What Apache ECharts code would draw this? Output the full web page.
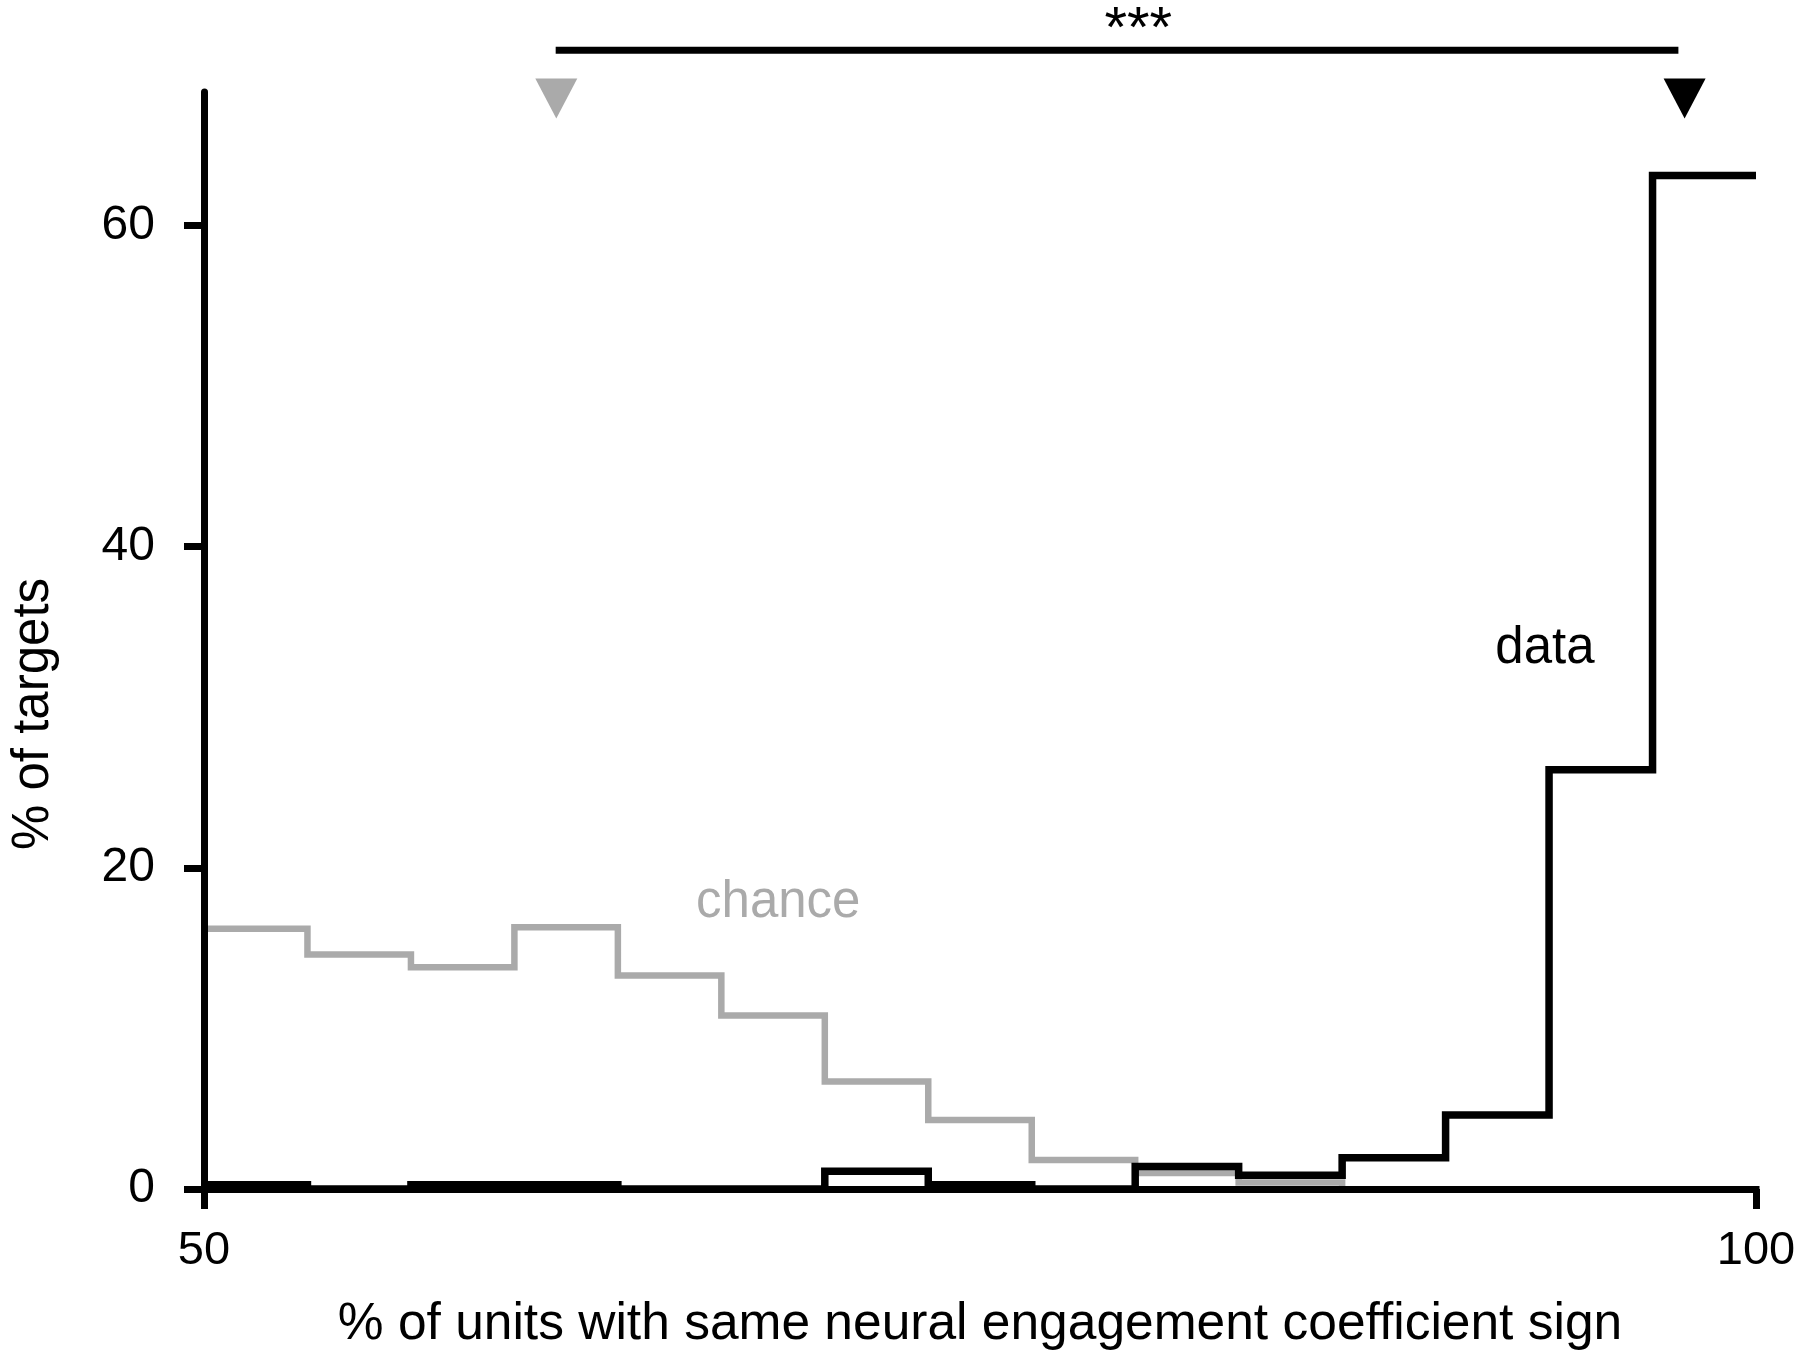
<!DOCTYPE html>
<html>
<head>
<meta charset="utf-8">
<script src="https://cdn.jsdelivr.net/npm/echarts@6/dist/echarts.min.js"></script>
<style>
html,body{margin:0;padding:0;background:#fff;}
#chart{width:1800px;height:1360px;}
</style>
</head>
<body>
<div id="chart"></div>
<script>
// Bin edges (% of units with same sign), 15 bins from 50 to 100
const binEdges = [50, 53.333, 56.667, 60, 63.333, 66.667, 70, 73.333, 76.667, 80, 83.333, 86.667, 90, 93.333, 96.667, 100];
// % of targets per bin
const chanceValues = [16.2, 14.6, 13.8, 16.3, 13.3, 10.8, 6.7, 4.3, 1.8, 1.0, 0.4, 0, 0, 0, 0];
const dataValues   = [0.27, 0, 0.27, 0.27, 0, 0, 1.1, 0.27, 0, 1.4, 0.85, 1.95, 4.6, 26.1, 63.1];
const xTicks = [50, 100];
const yTicks = [0, 20, 40, 60];
const yMax = 68.3;
// medians and significance
const chanceMedian = 61.35;
const dataMedian = 97.7;
const medianMarkerY = 67.9;
const sigBar = [61.33, 97.5];
const sigBarY = 70.9;
const sigLabel = '***';
const sigLabelPos = [80.1, 72.1];
const chanceLabel = {text: 'chance', x: 68.5, y: 17.8};
const dataLabel = {text: 'data', x: 93.2, y: 33.6};

function stepPoints(vals) {
  const pts = vals.map((v, i) => [binEdges[i], v]);
  pts.push([binEdges[binEdges.length - 1], vals[vals.length - 1]]);
  return pts;
}
// chance curve stops where it reaches zero
function chancePoints(vals) {
  let last = vals.length - 1;
  while (last > 0 && vals[last] === 0) last--;
  const pts = [];
  for (let i = 0; i <= last; i++) pts.push([binEdges[i], vals[i]]);
  pts.push([binEdges[last + 1], 0]);
  return pts;
}

const FONT = '"Liberation Sans", Arial, Helvetica, sans-serif';
const GRAY = '#aaaaaa';

const chart = echarts.init(document.getElementById('chart'), null, {renderer: 'canvas'});
chart.setOption({
  animation: false,
  backgroundColor: '#ffffff',
  grid: {left: 204, right: 44, top: 92, bottom: 171, containLabel: false},
  xAxis: {
    type: 'value', min: 50, max: 100, interval: 50, z: 10,
    name: '% of units with same neural engagement coefficient sign',
    nameLocation: 'middle', nameGap: 110,
    nameTextStyle: {fontFamily: FONT, fontSize: 51.5, color: '#000'},
    axisLine: {show: true, onZero: false, lineStyle: {color: '#000', width: 7, cap: 'square'}},
    axisTick: {show: true, inside: false, length: 20, customValues: xTicks, lineStyle: {color: '#000', width: 7}},
    axisLabel: {show: true, customValues: xTicks, margin: 39, fontFamily: FONT, fontSize: 47, color: '#000'},
    splitLine: {show: false}
  },
  yAxis: {
    type: 'value', min: 0, max: yMax, interval: 20, z: 10,
    axisLine: {show: true, onZero: false, lineStyle: {color: '#000', width: 7}},
    axisTick: {show: true, inside: false, length: 20, customValues: yTicks, lineStyle: {color: '#000', width: 7}},
    axisLabel: {show: true, customValues: yTicks, margin: 49, fontFamily: FONT, fontSize: 48, color: '#000'},
    splitLine: {show: false}
  },
  graphic: [{
    type: 'text', x: 34, y: 714, rotation: Math.PI / 2,
    style: {text: '% of targets', fontFamily: FONT, fontSize: 51, fill: '#000', align: 'center', verticalAlign: 'middle'}
  }],
  series: [
    {
      name: 'chance', type: 'line', step: 'end', showSymbol: false, symbol: 'none', z: 2,
      data: chancePoints(chanceValues),
      lineStyle: {color: GRAY, width: 6.5, join: 'miter', cap: 'butt'}
    },
    {
      name: 'data', type: 'line', step: 'end', showSymbol: false, symbol: 'none', z: 3,
      data: stepPoints(dataValues),
      lineStyle: {color: '#000', width: 7.5, join: 'miter', cap: 'butt'}
    },
    {
      name: 'sig', type: 'line', showSymbol: false, symbol: 'none', clip: false, z: 3,
      data: [[sigBar[0], sigBarY], [sigBar[1], sigBarY]],
      lineStyle: {color: '#000', width: 7, cap: 'butt'}
    },
    {
      name: 'medians', type: 'scatter', clip: false, z: 4,
      symbol: 'triangle', symbolRotate: 180, symbolSize: [42, 40],
      itemStyle: {opacity: 1},
      data: [
        {value: [chanceMedian, medianMarkerY], itemStyle: {color: GRAY, opacity: 1}},
        {value: [dataMedian, medianMarkerY], itemStyle: {color: '#000', opacity: 1}}
      ]
    },
    {
      name: 'labels', type: 'scatter', clip: false, z: 5, symbolSize: 0,
      itemStyle: {opacity: 1},
      data: [
        {value: [chanceLabel.x, chanceLabel.y], label: {show: true, position: 'inside', formatter: chanceLabel.text, fontFamily: FONT, fontSize: 51, color: GRAY, opacity: 1}},
        {value: [dataLabel.x, dataLabel.y], label: {show: true, position: 'inside', formatter: dataLabel.text, fontFamily: FONT, fontSize: 51, color: '#000', opacity: 1}},
        {value: sigLabelPos, label: {show: true, position: 'inside', formatter: sigLabel, fontFamily: FONT, fontSize: 58, color: '#000', opacity: 1}}
      ]
    }
  ]
});
</script>
</body>
</html>
